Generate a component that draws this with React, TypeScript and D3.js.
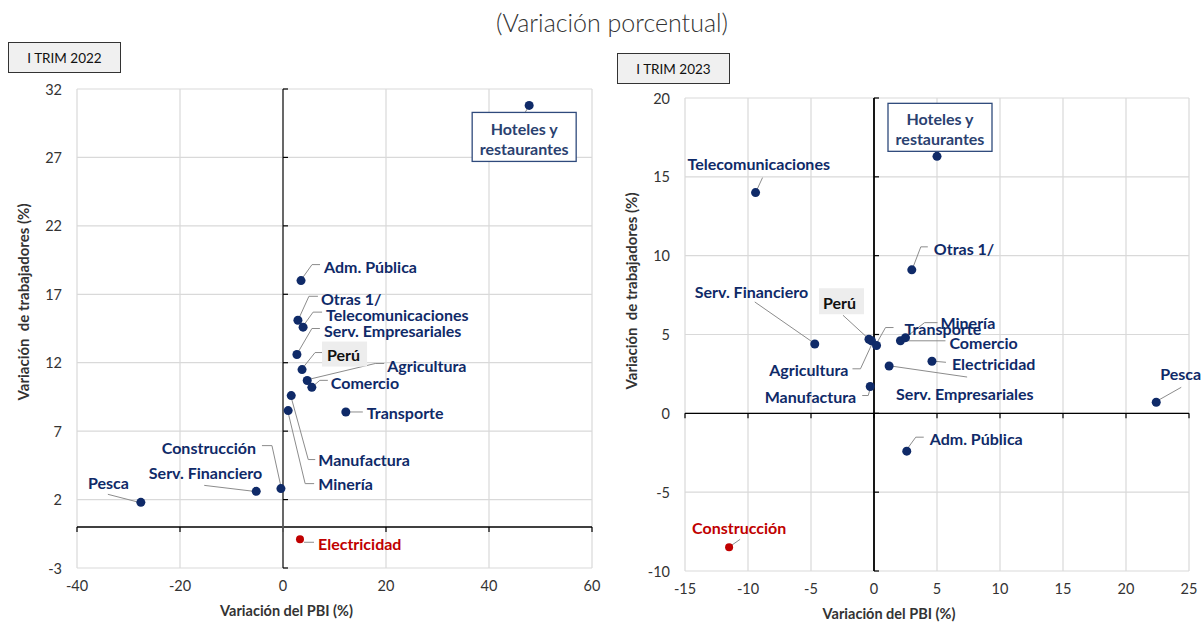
import React from 'react'
import * as d3 from 'd3'

const W = 1203
const H = 624
const NAVY = '#0f2a68'
const RED = '#c00000'
const FONT = 'Lato, "Open Sans", sans-serif'

// I TRIM 2022
const sectors2022 = ['Hoteles y restaurantes', 'Adm. Pública', 'Otras 1/', 'Telecomunicaciones', 'Serv. Empresariales', 'Perú', 'Agricultura', 'Comercio', 'Manufactura', 'Minería', 'Transporte', 'Construcción', 'Serv. Financiero', 'Pesca', 'Electricidad']
const pbi2022 = [47.8, 3.5, 2.9, 3.9, 2.7, 3.7, 4.7, 5.6, 1.6, 1.0, 12.2, -0.4, -5.2, -27.6, 3.3]
const empleo2022 = [30.8, 18.0, 15.1, 14.6, 12.6, 11.5, 10.7, 10.2, 9.6, 8.5, 8.4, 2.8, 2.6, 1.8, -0.9]
const red2022 = ['Electricidad']
const xTicks2022 = [-40, -20, 0, 20, 40, 60]
const yTicks2022 = [-3, 2, 7, 12, 17, 22, 27, 32]

// I TRIM 2023
const sectors2023 = ['Hoteles y restaurantes', 'Telecomunicaciones', 'Otras 1/', 'Serv. Financiero', 'Perú', 'Agricultura', 'Transporte', 'Comercio', 'Minería', 'Electricidad', 'Serv. Empresariales', 'Manufactura', 'Pesca', 'Adm. Pública', 'Construcción']
const pbi2023 = [5.0, -9.4, 3.0, -4.7, -0.4, -0.2, 0.2, 2.1, 2.5, 4.6, 1.2, -0.3, 22.4, 2.6, -11.5]
const empleo2023 = [16.3, 14.0, 9.1, 4.4, 4.7, 4.6, 4.3, 4.6, 4.8, 3.3, 3.0, 1.7, 0.7, -2.4, -8.5]
const red2023 = ['Construcción']
const xTicks2023 = [-15, -10, -5, 0, 5, 10, 15, 20, 25]
const yTicks2023 = [-10, -5, 0, 5, 10, 15, 20]

// label placement, pixel offsets from each point
const layout2022: Record<string, any> = {
  'Hoteles y restaurantes': { card: [-5, 7, 104, 49], leader: [[0, 0], [-4, 7]] },
  'Adm. Pública': { dx: 23, dy: -14, leader: [[1, -2], [11, -16], [19, -16]] },
  'Otras 1/': { dx: 23, dy: -22, leader: [[1, -2], [11, -24], [20, -24]] },
  'Telecomunicaciones': { dx: 23, dy: -13, leader: [[0, -1], [10, -15], [19, -15]] },
  'Serv. Empresariales': { dx: 27, dy: -24, leader: [[1, -2], [15, -26], [23, -26]] },
  'Perú': { dx: 25, dy: -15, tag: [20, -28, 45, 25], leader: [[1, -2], [13, -17], [20, -17]] },
  'Agricultura': { dx: 80, dy: -15, leader: [[1, -1], [68, -17], [77, -17]] },
  'Comercio': { dx: 19, dy: -5, leader: [[1, -1], [8, -7], [16, -7]] },
  'Transporte': { dx: 21, dy: 1, leader: [[4, 0], [17, 0]] },
  'Manufactura': { dx: 27, dy: 64, leader: [[0, 2], [17, 64], [24, 64]] },
  'Minería': { dx: 30, dy: 73, leader: [[0, 2], [17, 73], [26, 73]] },
  'Construcción': { dx: -25, dy: -41, anchor: 'end', leader: [[0, -2], [-9, -43], [-19, -43]] },
  'Serv. Financiero': { dx: 6, dy: -19, anchor: 'end', leader: [[-2, 0], [-52, -6]] },
  'Pesca': { dx: -12, dy: -20, anchor: 'end', leader: [[-2, 0], [-33, -8]] },
  'Electricidad': { dx: 18, dy: 4, leader: [[4, 3], [14, 3]] },
}

const layout2023: Record<string, any> = {
  'Hoteles y restaurantes': { card: [3, -53, 104, 48] },
  'Telecomunicaciones': { dx: -68, dy: -29, leader: [[1, -2], [7, -15]] },
  'Otras 1/': { dx: 22, dy: -21, leader: [[1, -2], [9, -23], [16, -23]] },
  'Serv. Financiero': { dx: -120, dy: -52, leader: [[-1, -1], [-60, -42]] },
  'Perú': { dx: -46, dy: -37, tag: [-50, -51, 45, 26], leader: [[-1, -1], [-26, -24]] },
  'Minería': { dx: 35, dy: -15, leader: [[0, 0], [19, -15], [32, -15]] },
  'Transporte': { dx: 28, dy: -17, leader: [[0, -2], [9, -18], [17, -18]] },
  'Comercio': { dx: 49, dy: 2, leader: [[2, 0], [45, 0]] },
  'Electricidad': { dx: 20, dy: 2, leader: [[3, 0], [14, 1]] },
  'Agricultura': { dx: -23, dy: 29, anchor: 'end', leader: [[1, 2], [-11, 28], [-19, 28]] },
  'Serv. Empresariales': { dx: 7, dy: 27, leader: [[2, 0], [78, 11]] },
  'Manufactura': { dx: -14, dy: 10, anchor: 'end', leader: [[0, 2], [-2, 9], [-8, 9]] },
  'Pesca': { dx: 4, dy: -29, leader: [[2, -2], [25, -15]] },
  'Adm. Pública': { dx: 23, dy: -13, leader: [[1, -3], [9, -14], [17, -14]] },
  'Construcción': { dx: -37, dy: -20, leader: [[1, -1], [11, -8]] },
}

const Panel = ({ frame, names, xv, yv, red, layout, xTicks, yTicks, vAxisColor, period, tagPos, yTitleY }: any) => {
  const { left, right, top, bottom } = frame
  const x = d3.scaleLinear().domain([xTicks[0], xTicks[xTicks.length - 1]]).range([left, right])
  const y = d3.scaleLinear().domain([yTicks[0], yTicks[yTicks.length - 1]]).range([bottom, top])
  const line = d3.line()
  const x0 = x(0)
  const y0 = y(0)

  return (
    <g fontFamily={FONT}>
      {/* grid */}
      {xTicks.map((t: number) => (
        <line key={'gx' + t} x1={x(t)} x2={x(t)} y1={top} y2={bottom} stroke="#d9d9d9" strokeWidth={1.2} />
      ))}
      {yTicks.map((t: number) => (
        <line key={'gy' + t} x1={left} x2={right} y1={y(t)} y2={y(t)} stroke="#d9d9d9" strokeWidth={1.2} />
      ))}
      {/* axes through zero */}
      <line x1={left} x2={right} y1={y0} y2={y0} stroke="#000" strokeWidth={1.4} />
      {xTicks.map((t: number) => (
        <line key={'tx' + t} x1={x(t)} x2={x(t)} y1={y0} y2={y0 + 5} stroke="#000" strokeWidth={1.2} />
      ))}
      <line x1={x0} x2={x0} y1={top} y2={bottom} stroke={vAxisColor} strokeWidth={1.8} />
      {yTicks.map((t: number) => (
        <line key={'ty' + t} x1={x0} x2={x0 + 5} y1={y(t)} y2={y(t)} stroke="#000" strokeWidth={1.2} />
      ))}
      {/* tick labels */}
      {xTicks.map((t: number) => (
        <text key={'lx' + t} x={x(t)} y={bottom + 23} textAnchor="middle" fontSize={14.5} fill="#333">{t}</text>
      ))}
      {yTicks.map((t: number) => (
        <text key={'ly' + t} x={left - 15} y={y(t)} textAnchor="end" dominantBaseline="central" fontSize={14.5} fill="#333">{t}</text>
      ))}
      {/* axis titles */}
      <text x={(left + right) / 2 - 48} y={bottom + 48} textAnchor="middle" fontSize={14.5} fontWeight="bold" fill="#333">Variación del PBI (%)</text>
      <text transform={`translate(${left - 54},${yTitleY}) rotate(-90)`} textAnchor="middle" dominantBaseline="central" fontSize={15} fontWeight="bold" fill="#333" style={{ whiteSpace: 'pre' }}>{'Variación  de trabajadores (%)'}</text>

      {/* period tag */}
      <rect x={tagPos[0]} y={tagPos[1]} width={112} height={30} fill="#f0f0f0" stroke="#333" strokeWidth={1} />
      <text x={tagPos[0] + 56} y={tagPos[1] + 15} textAnchor="middle" dominantBaseline="central" fontSize={13.5} fill="#111">{period}</text>

      {/* leaders */}
      {names.map((n: string, i: number) => {
        const L = layout[n]
        if (!L || !L.leader) return null
        const px = x(xv[i]), py = y(yv[i])
        const pts = L.leader.map((p: number[]) => [px + p[0], py + p[1]])
        return <path key={'ld' + n} d={line(pts) as string} fill="none" stroke="#8c8c8c" strokeWidth={1} />
      })}

      {/* points */}
      {names.map((n: string, i: number) => (
        <circle key={'pt' + n} cx={x(xv[i])} cy={y(yv[i])} r={red.includes(n) ? 4 : 4.5}
          fill={red.includes(n) ? RED : NAVY} />
      ))}

      {/* labels */}
      {names.map((n: string, i: number) => {
        const L = layout[n]
        if (!L) return null
        const px = x(xv[i]), py = y(yv[i])
        const color = red.includes(n) ? RED : NAVY
        if (L.card) {
          const [cx, ty, w, h] = L.card
          const [l1, l2] = ['Hoteles y', 'restaurantes']
          return (
            <g key={'lb' + n}>
              <rect x={px + cx - w / 2} y={py + ty} width={w} height={h} fill="#fff" stroke="#2f4a7c" strokeWidth={1.3} />
              <text x={px + cx} y={py + ty + h * 0.32} textAnchor="middle" dominantBaseline="central" fontSize={16} fontWeight="bold" fill="#2a4170">{l1}</text>
              <text x={px + cx} y={py + ty + h * 0.74} textAnchor="middle" dominantBaseline="central" fontSize={16} fontWeight="bold" fill="#2a4170">{l2}</text>
            </g>
          )
        }
        return (
          <g key={'lb' + n}>
            {L.tag && (
              <rect x={px + L.tag[0]} y={py + L.tag[1]} width={L.tag[2]} height={L.tag[3]} fill="#ededed" />
            )}
            <text x={px + L.dx} y={py + L.dy} textAnchor={L.anchor || 'start'} dominantBaseline="central"
              fontSize={16} fontWeight="bold" fill={n === 'Perú' ? '#111' : color}>{n}</text>
          </g>
        )
      })}
    </g>
  )
}

export default function App() {
  return (
    <svg width={W} height={H} style={{ position: 'absolute', left: 0, top: 0, background: '#fff' }}>
      <text x={612} y={22} textAnchor="middle" dominantBaseline="central" fontFamily={FONT} fontWeight={300} fontSize={25} fill="#333">(Variación porcentual)</text>
      <Panel
        frame={{ left: 77, right: 592, top: 89, bottom: 568 }}
        names={sectors2022} xv={pbi2022} yv={empleo2022} red={red2022}
        layout={layout2022} xTicks={xTicks2022} yTicks={yTicks2022}
        vAxisColor="#5a5a5a" period="I TRIM 2022" tagPos={[8.5, 42.5]} yTitleY={302}
      />
      <Panel
        frame={{ left: 685, right: 1189, top: 98, bottom: 571 }}
        names={sectors2023} xv={pbi2023} yv={empleo2023} red={red2023}
        layout={layout2023} xTicks={xTicks2023} yTicks={yTicks2023}
        vAxisColor="#000" period="I TRIM 2023" tagPos={[617.5, 53.5]} yTitleY={291}
      />
    </svg>
  )
}
